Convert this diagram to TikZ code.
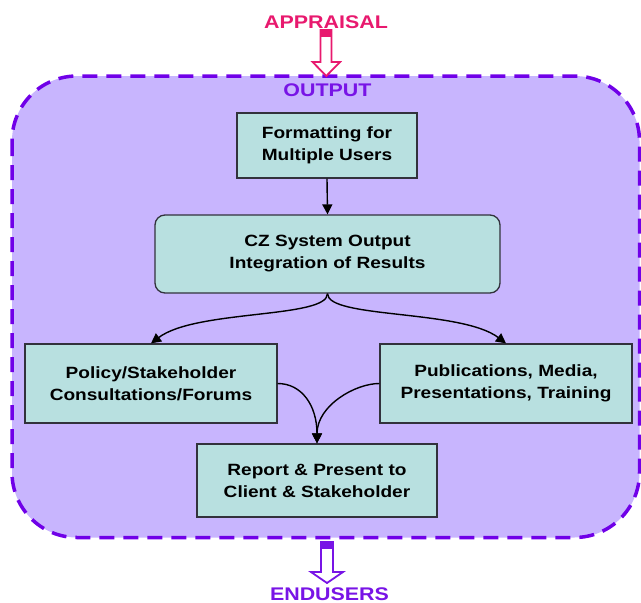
\documentclass[tikz,border=0pt]{standalone}
\usepackage{fontspec}
\setmainfont{Liberation Sans}[FakeStretch=1.17]
\usetikzlibrary{arrows.meta}
\definecolor{bgpurple}{RGB}{200,181,254}
\definecolor{boxfill}{RGB}{184,224,224}
\definecolor{boxline}{RGB}{50,50,60}
\definecolor{dashpurple}{RGB}{112,0,232}
\definecolor{txtpurple}{RGB}{120,20,230}
\definecolor{pinkc}{RGB}{232,25,110}
\tikzset{
  stepbox/.style={draw=boxline, fill=boxfill, line width=1.3pt, align=center,
    font=\fontsize{16.3}{22}\selectfont\bfseries, inner sep=0pt},
  conn/.style={draw=black, line width=1.4pt, -{Triangle[length=10pt,width=10pt]}},
  title/.style={anchor=base, inner sep=0pt, font=\fontsize{18.3}{22}\selectfont\bfseries},
  hollow/.style={line width=1.8pt, fill=white, line join=miter}
}
\begin{document}
\begin{tikzpicture}[x=1pt,y=-1pt]
\useasboundingbox (0,0) rectangle (641,603);
% big dashed container
\draw[fill=bgpurple, draw=dashpurple, line width=3.5pt, dash pattern=on 15pt off 9pt, rounded corners=65pt]
  (12,76) rectangle (639.5,537.5);
% titles
\node[title, text=pinkc] (appr) at (326,28) {APPRAISAL};
\node[title, text=txtpurple] (outp) at (327.5,96.7) {OUTPUT};
\node[title, text=txtpurple] (endu) at (329.5,600) {ENDUSERS};
% hollow arrows
\draw[hollow, draw=pinkc] (320.5,30) -- (331.5,30) -- (331.5,62) -- (340,62) -- (326.3,76) -- (312.6,62) -- (320.5,62) -- cycle;
\fill[pinkc] (320.5,30) rectangle (331.5,37);
\draw[hollow, draw=txtpurple] (321,542) -- (333,542) -- (333,572) -- (343,572) -- (327,583) -- (311,572) -- (321,572) -- cycle;
\fill[txtpurple] (321,542) rectangle (333,549);
% boxes
\node[stepbox, minimum width=180pt, minimum height=65pt] (fmt) at (327,145.5) {Formatting for\\Multiple Users};
\node[stepbox, rounded corners=10pt, minimum width=345pt, minimum height=78pt] (cz) at (327.5,254) {CZ System Output\\Integration of Results};
\node[stepbox, minimum width=252pt, minimum height=79pt] (pol) at (151,383.5) {Policy/Stakeholder\\Consultations/Forums};
\node[stepbox, minimum width=252pt, minimum height=79pt] (pub) at (506,383.5) {Publications, Media,\\Presentations, Training};
\node[stepbox, minimum width=240pt, minimum height=73pt] (rep) at (317,480.5) {Report \& Present to\\Client \& Stakeholder};
% connectors
\draw[conn] (fmt.south) -- (cz.north);
\draw[conn] (cz.south) .. controls +(0,25) and +(45,-34) .. (pol.north);
\draw[conn] (cz.south) .. controls +(0,25) and +(-45,-34) .. (pub.north);
\draw[conn] (pol.east) .. controls +(24,0) and +(0,-38) .. (rep.north);
\draw[conn] (pub.west) .. controls +(-24,0) and +(0,-38) .. (rep.north);
\end{tikzpicture}
\end{document}
